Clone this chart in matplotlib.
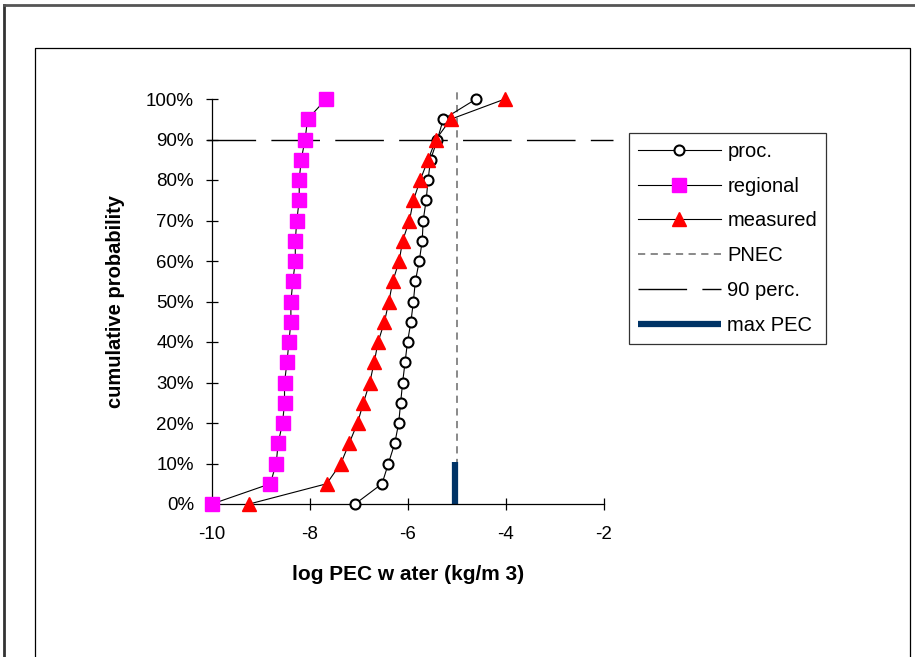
import numpy as np
import matplotlib
matplotlib.use("Agg")
import matplotlib.pyplot as plt
from matplotlib.lines import Line2D

plt.rcParams['font.family'] = ['Liberation Sans', 'DejaVu Sans']
plt.rcParams['axes.unicode_minus'] = False

# cumulative probability levels (%)
prob = [0, 5, 10, 15, 20, 25, 30, 35, 40, 45, 50,
        55, 60, 65, 70, 75, 80, 85, 90, 95, 100]

# log PEC water values
proc = [-7.08, -6.53, -6.40, -6.27, -6.19, -6.15, -6.11, -6.06, -6.01, -5.94, -5.89,
        -5.85, -5.77, -5.71, -5.69, -5.63, -5.59, -5.54, -5.40, -5.28, -4.61]
regional = [-10.0, -8.81, -8.69, -8.65, -8.56, -8.52, -8.52, -8.47, -8.43, -8.39, -8.39,
            -8.35, -8.30, -8.30, -8.27, -8.22, -8.22, -8.18, -8.10, -8.05, -7.67]
measured = [-9.24, -7.66, -7.37, -7.20, -7.03, -6.91, -6.78, -6.69, -6.61, -6.48, -6.39,
            -6.31, -6.18, -6.11, -5.97, -5.89, -5.75, -5.59, -5.43, -5.13, -4.02]

pnec_x = [-5.0, -5.0]
pnec_y = [0, 102.7]
perc90_x = [-10.1, -1.82]
perc90_y = [90, 90]
maxpec_x = [-5.04, -5.04]
maxpec_y = [0, 10.4]

xticks = [-10, -8, -6, -4, -2]
yticks = [0, 10, 20, 30, 40, 50, 60, 70, 80, 90, 100]

fs = 13.5

fig = plt.figure(figsize=(9.15, 6.57), dpi=100)
ax = fig.add_axes([212/915, 1-504/657, 392/915, 405/657])

ax.plot(proc, prob, color='black', lw=0.8, marker='o', ms=7.2,
        mfc='white', mec='black', mew=1.5, label='proc.', zorder=3, clip_on=False)
ax.plot(regional, prob, color='black', lw=0.8, marker='s', ms=9.5,
        mfc='#FF00FF', mec='#FF00FF', label='regional', zorder=3, clip_on=False)
ax.plot(measured, prob, color='black', lw=0.8, marker='^', ms=10.5,
        mfc='#FF0000', mec='#FF0000', label='measured', zorder=4, clip_on=False)
ax.plot(pnec_x, pnec_y, color='#808080', lw=1.3, ls=(0, (4, 3)),
        label='PNEC', clip_on=False, zorder=2)
ax.plot(perc90_x, perc90_y, color='black', lw=1.0, ls=(0, (35, 11)),
        label='90 perc.', clip_on=False, zorder=2)
ax.plot(maxpec_x, maxpec_y, color='#003366', lw=4.5, solid_capstyle='butt',
        label='max PEC', clip_on=False, zorder=2)

ax.set_xlim(-10, -2)
ax.set_ylim(0, 100)
ax.set_xticks(xticks)
ax.set_yticks(yticks)
ax.set_xticklabels([str(v) for v in xticks])
ax.set_yticklabels([f'{v}%' for v in yticks])
ax.tick_params(direction='inout', length=8, width=0.9, labelsize=fs, pad=9)
ax.tick_params(axis='x', pad=12)

for s in ['top', 'right']:
    ax.spines[s].set_visible(False)
for s in ['left', 'bottom']:
    ax.spines[s].set_linewidth(0.9)

ax.set_xlabel('log PEC w ater (kg/m 3)', fontsize=15, fontweight='bold', labelpad=16)
ax.set_ylabel('cumulative probability', fontsize=14.5, fontweight='bold', labelpad=15)

leg = ax.legend(loc='upper left', bbox_to_anchor=(629/915, 1-133/657),
                bbox_transform=fig.transFigure, fontsize=14.5, frameon=True,
                fancybox=False, handlelength=4.1, handletextpad=0.33,
                labelspacing=0.78, borderpad=0.45, borderaxespad=0)
leg.get_frame().set_edgecolor('black')
leg.get_frame().set_linewidth(0.9)

# chart frame lines
fig.add_artist(Line2D([4/915, 4/915], [0, 1-5/657], color='#333333', lw=2,
                      transform=fig.transFigure))
fig.add_artist(Line2D([4/915, 1], [1-5/657, 1-5/657], color='#555555', lw=2,
                      transform=fig.transFigure))
fig.add_artist(Line2D([35/915, 35/915, 910/915, 910/915],
                      [0, 1-48/657, 1-48/657, 0], color='black', lw=0.9,
                      transform=fig.transFigure))

fig.savefig('out.png', dpi=100)
